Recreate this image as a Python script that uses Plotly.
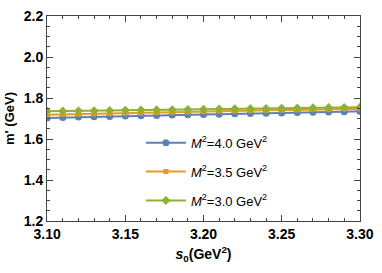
import plotly.graph_objects as go

s0 = [3.10, 3.11, 3.12, 3.13, 3.14, 3.15, 3.16, 3.17, 3.18, 3.19, 3.20,
      3.21, 3.22, 3.23, 3.24, 3.25, 3.26, 3.27, 3.28, 3.29, 3.30]
m_M4 = [1.703, 1.705, 1.707, 1.708, 1.710, 1.712, 1.713, 1.715, 1.717, 1.718, 1.720,
        1.721, 1.723, 1.724, 1.726, 1.727, 1.729, 1.730, 1.732, 1.733, 1.735]
m_M35 = [1.718, 1.720, 1.721, 1.723, 1.724, 1.726, 1.727, 1.729, 1.730, 1.732, 1.733,
         1.735, 1.736, 1.738, 1.739, 1.741, 1.742, 1.744, 1.745, 1.747, 1.748]
m_M3 = [1.735, 1.736, 1.737, 1.738, 1.739, 1.740, 1.741, 1.742, 1.743, 1.744, 1.745,
        1.746, 1.747, 1.748, 1.749, 1.750, 1.751, 1.752, 1.753, 1.754, 1.755]
labels = ["<i>M</i><sup>2</sup>=4.0 GeV<sup>2</sup>",
          "<i>M</i><sup>2</sup>=3.5 GeV<sup>2</sup>",
          "<i>M</i><sup>2</sup>=3.0 GeV<sup>2</sup>"]
x_ticks = [3.10, 3.15, 3.20, 3.25, 3.30]
x_ticktext = ["3.10", "3.15", "3.20", "3.25", "3.30"]
y_ticks = [1.2, 1.4, 1.6, 1.8, 2.0, 2.2]
y_ticktext = ["1.2", "1.4", "1.6", "1.8", "2.0", "2.2"]

colors = ["#5E81B5", "#E19C24", "#8FB032"]
symbols = ["circle", "square", "diamond"]
sizes = [7, 5, 7]

fig = go.Figure()
for i, (ys, name, c, sym, sz) in enumerate(zip([m_M4, m_M35, m_M3], labels, colors, symbols, sizes)):
    fig.add_trace(go.Scatter(x=s0, y=ys, mode="lines+markers", name=name,
                             legendgroup="g%d" % i,
                             line=dict(color=c, width=2),
                             marker=dict(color=c, symbol=sym, size=sz)))

axis_common = dict(showline=True, linecolor="#444", linewidth=1, mirror="allticks",
                   ticks="inside", ticklen=6, tickcolor="#444", showgrid=False,
                   zeroline=False, ticklabeloverflow="allow",
                   tickfont=dict(family="Liberation Sans", size=14, color="black"))

fig.update_xaxes(range=[3.0999, 3.3001], tickvals=x_ticks,
                 ticktext=["<b>%s</b>" % t for t in x_ticktext],
                 minor=dict(dtick=0.01, tick0=3.10, ticks="inside", ticklen=3, tickcolor="#444"),
                 title=dict(text="<b><i>s</i><sub>0</sub>(GeV<sup>2</sup>)</b>",
                            font=dict(family="Liberation Sans", size=14, color="black"),
                            standoff=8),
                 **axis_common)
fig.update_yaxes(range=[1.2, 2.2], tickvals=y_ticks,
                 ticktext=["<b>%s</b>" % t for t in y_ticktext],
                 minor=dict(dtick=0.05, tick0=1.2, ticks="inside", ticklen=3, tickcolor="#444"),
                 title=dict(text="<b>m' (GeV)</b>",
                            font=dict(family="Liberation Sans", size=13, color="black"),
                            standoff=6),
                 **axis_common)

fig.update_layout(
    width=382, height=273,
    margin=dict(l=47, r=14, t=8, b=52),
    plot_bgcolor="white", paper_bgcolor="white",
    font=dict(family="Liberation Sans", color="black"),
    legend=dict(x=0.30, y=0.455, xanchor="left", yanchor="top",
                bgcolor="rgba(0,0,0,0)", font=dict(size=13, family="Liberation Sans"),
                tracegroupgap=9, itemwidth=40),
    showlegend=True,
)
fig.write_html("out.html", config={"displayModeBar": False},
               post_script="document.body.style.margin='0';document.body.style.overflow='hidden';")
